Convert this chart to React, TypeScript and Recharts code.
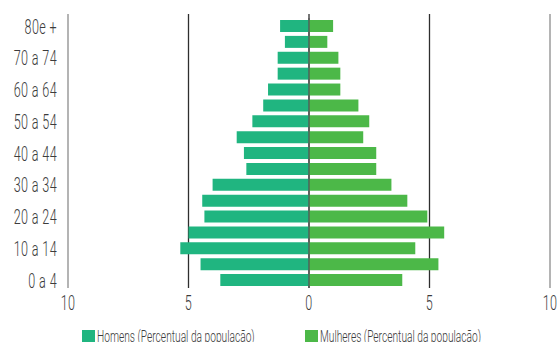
import React from 'react';
import {
  BarChart,
  Bar,
  XAxis,
  YAxis,
  CartesianGrid,
  ReferenceLine,
} from 'recharts';

// Faixas etárias, de cima para baixo
const faixas = [
  '80e +', '75 a 79', '70 a 74', '65 a 69', '60 a 64', '55 a 59',
  '50 a 54', '45 a 49', '40 a 44', '35 a 39', '30 a 34', '25 a 29',
  '20 a 24', '15 a 19', '10 a 14', '5 a 9', '0 a 4',
];

// Percentual da população por faixa
const homens = [1.2, 1.0, 1.3, 1.3, 1.7, 1.9, 2.35, 3.0, 2.7, 2.6, 4.0, 4.43, 4.34, 5.0, 5.34, 4.5, 3.68];
const mulheres = [1.0, 0.76, 1.22, 1.3, 1.3, 2.05, 2.5, 2.25, 2.79, 2.79, 3.42, 4.08, 4.91, 5.61, 4.41, 5.37, 3.87];

const xTicks = [-10, -5, 0, 5, 10];

const COR_HOMENS = '#20b580';
const COR_MULHERES = '#4cb848';
const COR_TEXTO = '#3c3c3c';
const FONTE = 'Roboto, sans-serif';
// fonte estreita simulada por compressão horizontal
const ESTREITO = 0.6;

const data = faixas.map((faixa, i) => ({
  faixa,
  homens: -homens[i],
  mulheres: mulheres[i],
}));

// linhas verticais da grade: extremos em cinza claro, internas mais escuras
const GridLine = (props: any) => {
  const { x1, x2, y2, index } = props;
  const outer = index === 0 || index === xTicks.length - 1;
  return (
    <line
      key={`v-${index}`}
      x1={x1}
      x2={x2}
      y1={14}
      y2={y2}
      stroke={outer ? '#8c8c8c' : '#2e2e2e'}
      strokeWidth={1.3}
    />
  );
};

const TickY = (props: any) => {
  const { x, y, payload } = props;
  return (
    <g transform={`translate(${x},${y})`}>
      <text
        transform={`scale(${ESTREITO},1)`}
        textAnchor="end"
        dy="0.36em"
        fontSize={21}
        fontWeight={300}
        letterSpacing={0.6}
        fontFamily={FONTE}
        fill={COR_TEXTO}
      >
        {payload.value}
      </text>
    </g>
  );
};

const TickX = (props: any) => {
  const { x, y, payload } = props;
  return (
    <g transform={`translate(${x},${y})`}>
      <text
        transform={`scale(${ESTREITO},1)`}
        textAnchor="middle"
        dy="0.74em"
        fontSize={21}
        fontWeight={300}
        letterSpacing={0.6}
        fontFamily={FONTE}
        fill={COR_TEXTO}
      >
        {Math.abs(payload.value)}
      </text>
    </g>
  );
};

const LegendItem = ({ color, label, left }: { color: string; label: string; left: number }) => (
  <div style={{ position: 'absolute', left, top: 330, height: 14, whiteSpace: 'nowrap' }}>
    <div style={{ position: 'absolute', left: 0, top: 0, width: 13, height: 13, background: color }} />
    <span
      style={{
        position: 'absolute',
        left: 15,
        top: -2,
        fontSize: 17,
        lineHeight: '17px',
        fontWeight: 300,
        color: COR_TEXTO,
        display: 'inline-block',
        transform: `scaleX(${ESTREITO})`,
        transformOrigin: 'left top',
      }}
    >
      {label}
    </span>
  </div>
);

export default function App() {
  return (
    <div style={{ position: 'absolute', left: 0, top: 0, width: 559, height: 342, background: '#fff', overflow: 'hidden', fontFamily: FONTE }}>
      <BarChart
        width={559}
        height={342}
        data={data}
        layout="vertical"
        stackOffset="sign"
        barSize={12}
        margin={{ top: 18, right: 9, bottom: 24, left: 0 }}
      >
        <CartesianGrid horizontal={false} vertical={GridLine} />
        <XAxis
          type="number"
          domain={[-10, 10]}
          ticks={xTicks}
          height={30}
          axisLine={false}
          tickLine={false}
          tickMargin={0}
          tick={<TickX />}
        />
        <YAxis
          type="category"
          dataKey="faixa"
          width={68}
          interval={1}
          axisLine={false}
          tickLine={false}
          tickMargin={5}
          tick={<TickY />}
        />
        <Bar dataKey="homens" stackId="p" fill={COR_HOMENS} isAnimationActive={false} />
        <Bar dataKey="mulheres" stackId="p" fill={COR_MULHERES} isAnimationActive={false} />
        <ReferenceLine x={0} stroke="#555" strokeWidth={1.3} />
      </BarChart>
      <LegendItem color={COR_HOMENS} label="Homens (Percentual da população)" left={82} />
      <LegendItem color={COR_MULHERES} label="Mulheres (Percentual da população)" left={305} />
    </div>
  );
}
